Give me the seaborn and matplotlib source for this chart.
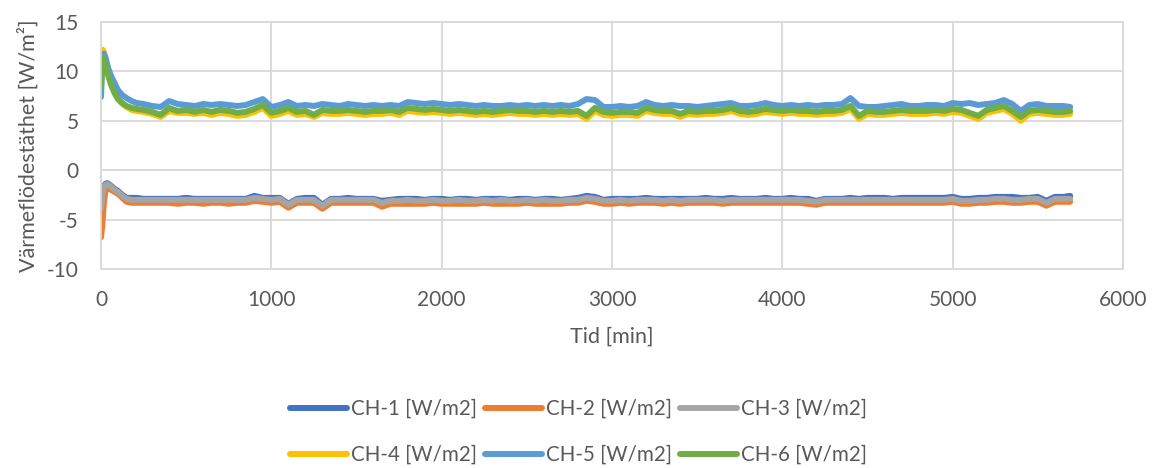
import matplotlib
matplotlib.use("Agg")
import matplotlib.pyplot as plt
import seaborn as sns
import pandas as pd

# ---------------- data ----------------
time_min = [0, 8, 16, 25, 35, 45, 60, 80, 100, 125, 150, 180, 210, 250, 300,
            350, 400, 450, 500, 550, 600, 650, 700, 750, 800,
            850, 900, 950, 1000, 1050, 1100, 1150, 1200, 1250, 1300,
            1350, 1400, 1450, 1500, 1550, 1600, 1650, 1700, 1750, 1800,
            1850, 1900, 1950, 2000, 2050, 2100, 2150, 2200, 2250, 2300,
            2350, 2400, 2450, 2500, 2550, 2600, 2650, 2700, 2750, 2800,
            2850, 2900, 2950, 3000, 3050, 3100, 3150, 3200, 3250, 3300,
            3350, 3400, 3450, 3500, 3550, 3600, 3650, 3700, 3750, 3800,
            3850, 3900, 3950, 4000, 4050, 4100, 4150, 4200, 4250, 4300,
            4350, 4400, 4450, 4500, 4550, 4600, 4650, 4700, 4750, 4800,
            4850, 4900, 4950, 5000, 5050, 5100, 5150, 5200, 5250, 5300,
            5350, 5400, 5450, 5500, 5550, 5600, 5650, 5690]

ch1 = [-3.5, -2.2, -1.7, -1.4, -1.3, -1.4, -1.6, -1.9, -2.1, -2.5, -2.8, -2.8, -2.8, -2.9, -2.9,
       -2.9, -2.9, -2.9, -2.8, -2.9, -2.9, -2.9, -2.9, -2.9, -2.9,
       -2.9, -2.6, -2.8, -2.8, -2.8, -3.4, -2.9, -2.8, -2.8, -3.5,
       -2.9, -2.9, -2.8, -2.9, -2.9, -2.9, -3.1, -3.0, -2.9, -2.9,
       -2.9, -3.0, -2.9, -2.9, -3.0, -2.9, -2.9, -3.0, -2.9, -2.9,
       -2.9, -3.0, -2.9, -2.9, -3.0, -2.9, -2.9, -3.0, -2.9, -2.8,
       -2.6, -2.7, -3.0, -2.9, -2.9, -2.9, -2.9, -2.8, -2.9, -2.9,
       -2.9, -2.9, -2.9, -2.9, -2.8, -2.9, -2.9, -2.8, -2.9, -2.9,
       -2.9, -2.8, -2.9, -2.9, -2.8, -2.9, -2.9, -3.1, -2.9, -2.9,
       -2.9, -2.8, -2.9, -2.8, -2.8, -2.8, -2.9, -2.8, -2.8, -2.8,
       -2.8, -2.8, -2.8, -2.7, -2.9, -2.9, -2.8, -2.8, -2.7, -2.7,
       -2.7, -2.8, -2.8, -2.7, -3.1, -2.7, -2.7, -2.6]

ch2 = [-6.8, -5.5, -3.5, -2.2, -1.8, -1.8, -2.0, -2.2, -2.4, -2.8, -3.2, -3.3, -3.3, -3.3, -3.3,
       -3.3, -3.3, -3.4, -3.3, -3.3, -3.4, -3.3, -3.3, -3.4, -3.3,
       -3.3, -3.1, -3.2, -3.3, -3.2, -3.8, -3.3, -3.3, -3.3, -3.9,
       -3.3, -3.3, -3.3, -3.3, -3.3, -3.3, -3.7, -3.4, -3.4, -3.4,
       -3.4, -3.4, -3.3, -3.4, -3.4, -3.4, -3.4, -3.4, -3.3, -3.4,
       -3.4, -3.4, -3.4, -3.3, -3.4, -3.4, -3.4, -3.4, -3.3, -3.3,
       -3.1, -3.2, -3.4, -3.4, -3.3, -3.4, -3.3, -3.3, -3.3, -3.4,
       -3.3, -3.4, -3.3, -3.3, -3.3, -3.3, -3.4, -3.3, -3.3, -3.3,
       -3.3, -3.3, -3.3, -3.3, -3.3, -3.3, -3.4, -3.5, -3.3, -3.3,
       -3.3, -3.3, -3.3, -3.3, -3.3, -3.3, -3.3, -3.3, -3.3, -3.3,
       -3.3, -3.3, -3.3, -3.2, -3.4, -3.4, -3.3, -3.3, -3.2, -3.2,
       -3.3, -3.3, -3.2, -3.2, -3.6, -3.2, -3.2, -3.2]

ch3 = [-3.9, -2.4, -1.8, -1.5, -1.4, -1.5, -1.7, -2.0, -2.2, -2.6, -2.9, -3.0, -3.0, -3.0, -3.0,
       -3.0, -3.0, -3.0, -3.0, -3.0, -3.0, -3.0, -3.0, -3.0, -3.0,
       -3.0, -2.8, -2.9, -3.0, -2.9, -3.5, -3.0, -3.0, -3.0, -3.6,
       -3.0, -3.0, -3.0, -3.0, -3.0, -3.0, -3.3, -3.1, -3.1, -3.0,
       -3.1, -3.1, -3.0, -3.1, -3.1, -3.0, -3.1, -3.1, -3.0, -3.1,
       -3.0, -3.1, -3.1, -3.0, -3.1, -3.0, -3.1, -3.1, -3.0, -3.0,
       -2.8, -2.9, -3.1, -3.1, -3.0, -3.1, -3.0, -3.0, -3.0, -3.1,
       -3.0, -3.1, -3.0, -3.0, -3.0, -3.0, -3.1, -3.0, -3.0, -3.0,
       -3.0, -3.0, -3.0, -3.0, -3.0, -3.0, -3.1, -3.2, -3.0, -3.0,
       -3.0, -3.0, -3.0, -3.0, -3.0, -3.0, -3.0, -3.0, -3.0, -3.0,
       -3.0, -3.0, -3.0, -2.9, -3.1, -3.1, -3.0, -3.0, -2.9, -2.9,
       -3.0, -3.0, -2.9, -2.9, -3.3, -2.9, -2.9, -2.9]

ch4 = [11.5, 12.2, 12.0, 11.4, 10.5, 9.8, 8.8, 7.9, 7.2, 6.7, 6.4, 6.1, 6.0, 5.9, 5.7,
       5.4, 6.0, 5.8, 5.8, 5.7, 5.8, 5.6, 5.8, 5.7, 5.5,
       5.6, 5.9, 6.3, 5.5, 5.7, 6.0, 5.6, 5.7, 5.4, 5.8,
       5.7, 5.7, 5.8, 5.7, 5.6, 5.7, 5.7, 5.8, 5.6, 6.0,
       5.9, 5.8, 5.9, 5.8, 5.7, 5.8, 5.7, 5.6, 5.7, 5.6,
       5.7, 5.8, 5.7, 5.7, 5.6, 5.7, 5.6, 5.7, 5.6, 5.7,
       5.2, 6.0, 5.6, 5.5, 5.6, 5.6, 5.5, 6.0, 5.8, 5.7,
       5.7, 5.4, 5.7, 5.6, 5.7, 5.7, 5.8, 6.0, 5.7, 5.6,
       5.7, 5.9, 5.8, 5.7, 5.8, 5.7, 5.7, 5.6, 5.7, 5.7,
       5.8, 6.2, 5.2, 5.7, 5.6, 5.6, 5.7, 5.8, 5.7, 5.7,
       5.7, 5.8, 5.7, 5.9, 5.8, 5.5, 5.2, 5.8, 6.0, 6.2,
       5.7, 5.0, 5.7, 5.8, 5.7, 5.6, 5.6, 5.7]

ch5 = [7.4, 11.0, 11.8, 11.5, 10.8, 10.2, 9.5, 8.8, 8.1, 7.6, 7.3, 7.0, 6.8, 6.7, 6.5,
       6.4, 7.0, 6.7, 6.6, 6.5, 6.7, 6.6, 6.7, 6.6, 6.5,
       6.6, 6.9, 7.2, 6.4, 6.6, 6.9, 6.5, 6.6, 6.5, 6.7,
       6.6, 6.5, 6.7, 6.6, 6.5, 6.6, 6.5, 6.6, 6.5, 6.9,
       6.8, 6.7, 6.8, 6.7, 6.6, 6.7, 6.6, 6.5, 6.6, 6.5,
       6.5, 6.6, 6.5, 6.6, 6.5, 6.6, 6.5, 6.6, 6.5, 6.7,
       7.2, 7.1, 6.4, 6.4, 6.5, 6.4, 6.5, 6.9, 6.6, 6.5,
       6.6, 6.5, 6.5, 6.4, 6.5, 6.6, 6.7, 6.8, 6.5, 6.5,
       6.6, 6.8, 6.6, 6.5, 6.6, 6.5, 6.6, 6.5, 6.6, 6.6,
       6.7, 7.3, 6.5, 6.4, 6.4, 6.5, 6.6, 6.7, 6.5, 6.5,
       6.6, 6.6, 6.5, 6.8, 6.7, 6.8, 6.6, 6.7, 6.8, 7.1,
       6.7, 6.0, 6.6, 6.7, 6.5, 6.5, 6.5, 6.4]

ch6 = [8.4, 11.2, 11.3, 10.8, 10.0, 9.4, 8.6, 7.8, 7.2, 6.8, 6.5, 6.3, 6.2, 6.1, 5.9,
       5.6, 6.3, 6.0, 6.1, 5.9, 6.1, 5.9, 6.1, 6.0, 5.8,
       5.9, 6.2, 6.6, 5.8, 6.0, 6.3, 5.9, 6.0, 5.6, 6.1,
       6.0, 6.0, 6.1, 6.0, 5.9, 6.0, 6.0, 6.1, 5.9, 6.3,
       6.2, 6.1, 6.2, 6.1, 6.0, 6.1, 6.0, 5.9, 6.0, 5.9,
       6.0, 6.1, 6.0, 6.0, 5.9, 6.0, 5.9, 6.0, 5.9, 6.0,
       5.5, 6.3, 5.9, 5.8, 5.9, 5.9, 5.8, 6.3, 6.1, 6.0,
       6.0, 5.7, 6.0, 5.9, 6.0, 6.0, 6.1, 6.3, 6.0, 5.9,
       6.0, 6.2, 6.1, 6.0, 6.1, 6.0, 6.0, 5.9, 6.0, 6.0,
       6.1, 6.5, 5.5, 6.0, 5.9, 5.9, 6.0, 6.1, 6.0, 6.0,
       6.0, 6.1, 6.0, 6.2, 6.1, 5.8, 5.5, 6.1, 6.3, 6.5,
       6.0, 5.4, 6.0, 6.1, 6.0, 5.9, 5.9, 6.0]

series_names = ["CH-1 [W/m2]", "CH-2 [W/m2]", "CH-3 [W/m2]",
                "CH-4 [W/m2]", "CH-5 [W/m2]", "CH-6 [W/m2]"]
series_values = [ch1, ch2, ch3, ch4, ch5, ch6]
colors = ["#4472C4", "#ED7D31", "#A5A5A5", "#FFC000", "#5B9BD5", "#70AD47"]

x_ticks = [0, 1000, 2000, 3000, 4000, 5000, 6000]
y_ticks = [-10, -5, 0, 5, 10, 15]

# ---------------- style ----------------
sns.set_theme(style="white")
plt.rcParams["font.family"] = ["Lato", "DejaVu Sans"]
plt.rcParams["axes.unicode_minus"] = False
text_col = "#595959"
grid_col = "#D9D9D9"

fig = plt.figure(figsize=(11.57, 4.68), dpi=100)
ax = fig.add_axes([0.0873, 0.4252, 0.9706 - 0.0873, 0.953 - 0.4252])

for name, vals, col in zip(series_names, series_values, colors):
    df = pd.DataFrame({"t": time_min, "v": vals})
    sns.lineplot(data=df, x="t", y="v", ax=ax, color=col, linewidth=4.3,
                 label=name, solid_capstyle="round", solid_joinstyle="round")

ax.set_xlim(0, 6000)
ax.set_ylim(-10, 15)
ax.set_xticks(x_ticks)
ax.set_yticks(y_ticks)
ax.grid(True, color=grid_col, linewidth=1.3)
ax.set_axisbelow(True)
for s in ax.spines.values():
    s.set_color(grid_col)
    s.set_linewidth(1.3)
ax.tick_params(axis="both", length=0, labelsize=15, colors=text_col)
ax.tick_params(axis="y", pad=16)
ax.tick_params(axis="x", pad=15)
ax.set_xlabel("Tid [min]", fontsize=15.5, color=text_col, labelpad=12)
ax.set_ylabel("Värmeflödestäthet [W/m²]", fontsize=15.5, color=text_col, labelpad=6)

handles, labels = ax.get_legend_handles_labels()
ax.get_legend().remove()
order = [0, 3, 1, 4, 2, 5]
fig.legend([handles[i] for i in order], [labels[i] for i in order],
           loc="center", bbox_to_anchor=(0.5, 0.077), ncol=3, frameon=False,
           fontsize=14.8, labelcolor=text_col, handlelength=2.8,
           handletextpad=0.2, columnspacing=0.35, labelspacing=1.25)

fig.savefig("out.png", dpi=100)
